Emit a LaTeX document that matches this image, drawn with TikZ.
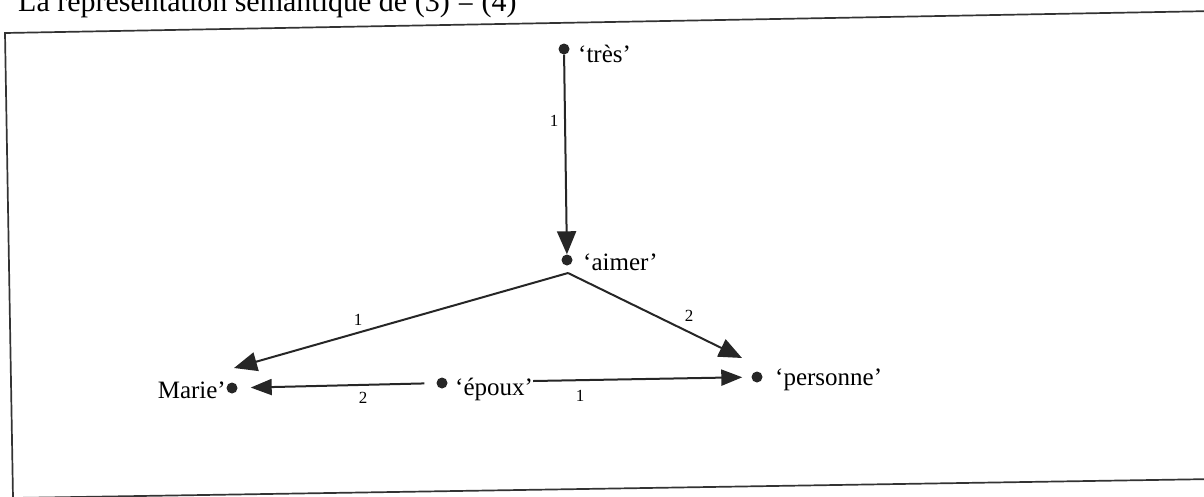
\documentclass[tikz,border=0pt]{standalone}
\usepackage{fontspec}
\setmainfont{Liberation Serif}
\usetikzlibrary{arrows.meta}
\begin{document}
\begin{tikzpicture}[x=1pt,y=-1pt,
  dot/.style={circle,fill=black!85,inner sep=0pt,minimum size=11pt},
  lbl/.style={inner sep=0pt,font=\fontsize{25}{28}\selectfont},
  num/.style={inner sep=0pt,font=\fontsize{17}{19}\selectfont},
  conn/.style={line width=2pt,draw=black!85},
  arr/.style={conn,-{Triangle[length=21pt,width=16pt]}},
  bigarr/.style={conn,-{Triangle[length=23pt,width=19pt]}},
  frame/.style={line width=1.7pt,draw=black!80}]
\useasboundingbox (0,0) rectangle (1204,496);
\begin{scope}
\clip (0,0) rectangle (1204,496);
% title, cut off by the top edge as in the reference
\node[inner sep=0pt,anchor=base west,font=\fontsize{30}{34}\selectfont] (title) at (18,11) {La représentation sémantique de (3) = (4)};
% frame
\coordinate (ftl) at (5,33);
\coordinate (ftr) at (1215,11);
\coordinate (fbl) at (13,498);
\coordinate (fbr) at (1215,479);
\draw[frame] (ftr) -- (ftl) -- (fbl) -- (fbr);
\end{scope}

% nodes
\node[dot] (tres) at (564,49) {};
\node[lbl,anchor=base west] (trest) at (578,62) {‘très’};
\node[dot] (aimer) at (567,260) {};
\node[lbl,anchor=base west] (aimert) at (583,270) {‘aimer’};
\node[dot] (marie) at (232,388) {};
\node[lbl,anchor=base east] (mariet) at (226,398) {Marie’};
\node[dot] (epoux) at (442,383) {};
\node[lbl,anchor=base west] (epouxt) at (455,395) {‘époux’};
\node[dot] (pers) at (757,377) {};
\node[lbl,anchor=base west] (perst) at (775,385) {‘personne’};

\coordinate (apex) at (568,273);
\coordinate (mtip) at (234,368);
\coordinate (ptip) at (742,358);

% connectors
\draw[bigarr] (tres) -- (aimer);
\draw[bigarr] (apex) -- (mtip);
\draw[bigarr] (apex) -- (ptip);
\draw[arr,shorten <=12pt,shorten >=13pt] (epoux) -- (marie);
\draw[arr,shorten >=9pt] ([yshift=14pt]epouxt.base east) -- (pers);

% labels
\node[num] (n1) at (554,121) {1};
\node[num] (n2) at (358,320) {1};
\node[num] (n3) at (689,316) {2};
\node[num] (n4) at (363,398) {2};
\node[num] (n5) at (580,396) {1};
\end{tikzpicture}
\end{document}
